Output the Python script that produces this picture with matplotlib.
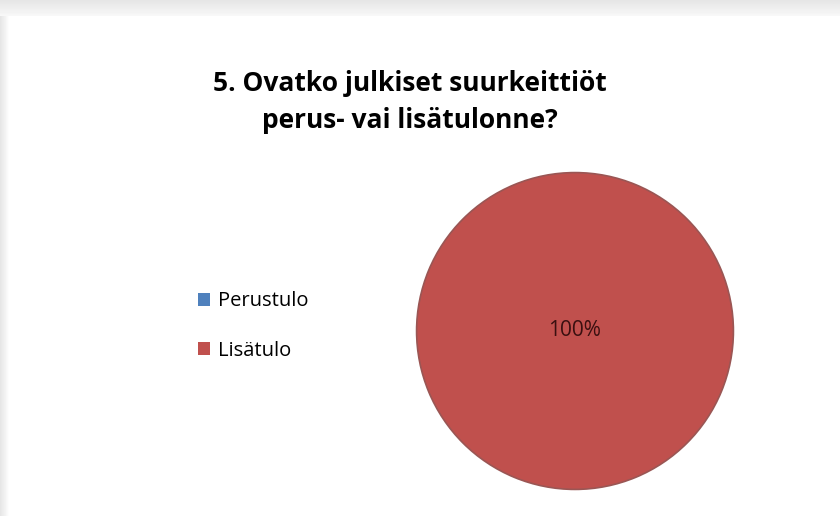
import matplotlib
matplotlib.use("Agg")
import matplotlib.pyplot as plt
from matplotlib.patches import Patch
import numpy as np

categories = ["Perustulo", "Lisätulo"]
values = [0, 100]
colors = ["#4F81BD", "#C0504D"]
title = "5. Ovatko julkiset suurkeittiöt\nperus- vai lisätulonne?"

plt.rcParams["font.family"] = ["Open Sans", "DejaVu Sans"]

fig = plt.figure(figsize=(8.4, 5.16), dpi=100)
fig.patch.set_facecolor("white")

# grey frame along the top and left edges
bg = fig.add_axes([0, 0, 1, 1])
bg.axis("off")
top = np.linspace(0.90, 0.97, 16).reshape(-1, 1) * np.ones((1, 840))
bg.imshow(top, cmap="gray", vmin=0, vmax=1, extent=(0, 840, 16, 0), aspect="auto")
left = np.linspace(0.90, 1.0, 10).reshape(1, -1) * np.ones((500, 1))
bg.imshow(left, cmap="gray", vmin=0, vmax=1, extent=(0, 10, 516, 16), aspect="auto")
bg.set_xlim(0, 840)
bg.set_ylim(516, 0)

fig.text(0.488, 1 - 102 / 516, title, ha="center", va="center", fontsize=19,
         fontweight="bold", color="#000000", linespacing=1.45)

ax = fig.add_axes([415 / 840, 1 - 491 / 516, 320 / 840, 320 / 516])


def pct(p):
    return f"{p:.0f}%" if p > 0 else ""


wedges, _, autotexts = ax.pie(values, colors=colors, startangle=90, counterclock=False,
                              autopct=pct, pctdistance=0.0,
                              wedgeprops=dict(edgecolor="#9a5654", linewidth=1.2),
                              textprops=dict(fontsize=15, color="#3a1010"))
ax.set_xlim(-1.01, 1.01)
ax.set_ylim(-1.01, 1.01)
ax.set_aspect("equal")

handles = [Patch(facecolor=c, edgecolor="none") for c in colors]
fig.legend(handles, categories, loc="center left", bbox_to_anchor=(180 / 840, 1 - 326 / 516),
           frameon=False, fontsize=14.5, handlelength=0.6, handleheight=0.6,
           handletextpad=0.4, labelspacing=1.45)

plt.savefig("out.png", dpi=100)
plt.close()
